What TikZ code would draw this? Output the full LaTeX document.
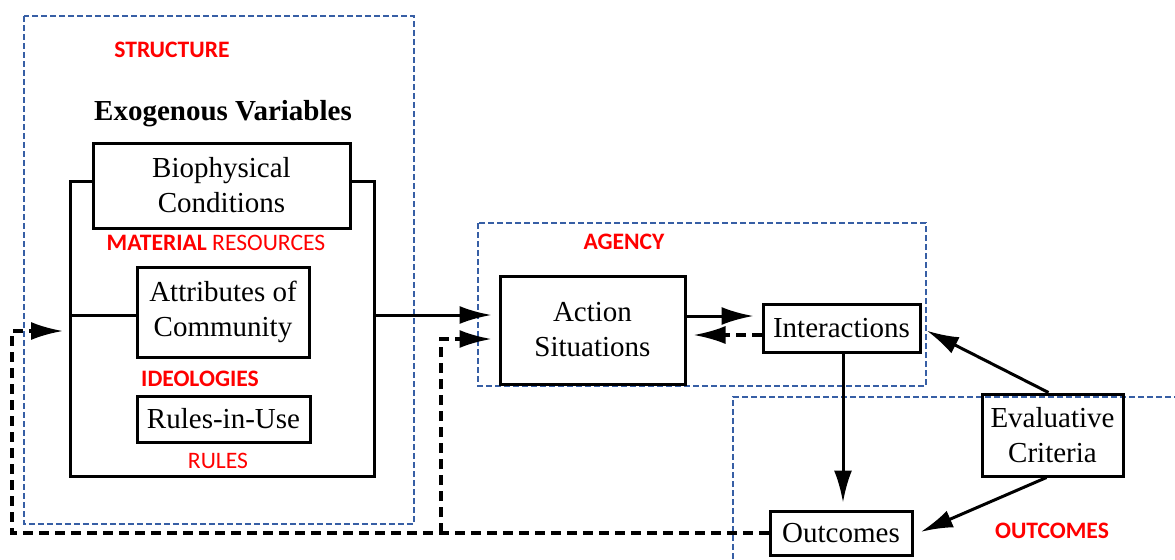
\documentclass[tikz,border=0pt]{standalone}
\usepackage{fontspec}
\setmainfont{Liberation Serif}
\newfontfamily\labelfont{Carlito}
\usetikzlibrary{arrows.meta}
\definecolor{zoneblue}{RGB}{55,95,165}
\definecolor{tagred}{RGB}{255,0,0}
\begin{document}
\begin{tikzpicture}[x=0.5pt,y=-0.5pt,
  box/.style={draw,line width=1.5pt,rectangle,inner sep=0pt,align=center,
    font=\fontsize{14.5}{17.5}\selectfont},
  zone/.style={draw=zoneblue,line width=0.6pt,dash pattern=on 2.8pt off 1.7pt},
  tag/.style={text=tagred,font=\labelfont\fontsize{11.8}{13}\selectfont\bfseries},
  tip/.style={-{Latex[length=16pt,width=9pt]}},
  link/.style={line width=1.5pt,tip},
  back/.style={line width=1.6pt,dash pattern=on 5pt off 3pt,tip},
  frame/.style={line width=1.5pt}]
\useasboundingbox (0,0) rectangle (1175,559);

% dashed zones
\draw[zone] (24,16) rectangle (414,524);
\draw[zone] (478,223) rectangle (926,386);
\draw[zone] (733,559) -- (733,397) -- (1175,397);

% zone labels
\node[tag] (tstruct) at (172,50) {STRUCTURE};
\node[tag] (tmat) at (216,243) {MATERIAL \mdseries RESOURCES};
\node[tag] (tideo) at (200,379) {IDEOLOGIES};
\node[tag,font=\labelfont\fontsize{11.8}{13}\selectfont] (trules) at (218,461) {RULES};
\node[tag] (tagency) at (624,242) {AGENCY};
\node[tag] (toutc) at (1052,531) {OUTCOMES};

% exogenous variables
\node[font=\fontsize{14.5}{16.5}\selectfont\bfseries] (exo) at (223,114) {Exogenous Variables};
\node[box,minimum width=128.5pt,minimum height=42.5pt] (bio) at (221.5,185.5) {Biophysical\\Conditions};
\node[box,minimum width=86pt,minimum height=45pt] (attr) at (223,312) {Attributes of\\Community};
\node[box,minimum width=86.5pt,minimum height=23pt] (rules) at (223.5,419) {Rules-in-Use};

% bracket around the exogenous variables
\draw[frame] (bio.west |- 0,181) -- (70,181) -- (70,476) -- (374,476) -- (374,181) -- (bio.east |- 0,181);
\coordinate (brL) at (70,315);
\coordinate (brR) at (374,315);
\draw[frame] (brL) -- (attr.west |- brL);

% action arena and results
\node[box,minimum width=92.5pt,minimum height=54pt] (action) at (592.5,330) {Action\\Situations};
\node[box,minimum width=78.5pt,minimum height=24pt] (inter) at (841.5,328) {Interactions};
\node[box,minimum width=71pt,minimum height=22pt] (outc) at (841,533) {Outcomes};
\node[box,minimum width=70.5pt,minimum height=41pt] (eval) at (1052.5,435) {Evaluative\\Criteria};

% forward links
\draw[link,shorten >=3.5pt] (brR) -- (action.west |- brR);
\draw[link,shorten >=4pt] (action.east |- 0,316) -- (inter.west |- 0,316);
\draw[back,shorten >=3.5pt] (inter.west |- 0,335) -- (action.east |- 0,335);
\draw[link,shorten >=3.5pt] (inter.south -| 843,0) -- (outc.north -| 843,0);
\draw[link,shorten >=3pt] (eval.north west) ++(68,0) -- (inter.east |- 0,328);
\draw[link,shorten >=4pt] (eval.south west) ++(66,0) -- (outc.east |- 0,535);

% feedback from outcomes
\coordinate (fbA) at (12,533);
\coordinate (fbB) at (441,533);
\draw[back,shorten >=3.5pt] (outc.west) -- (fbA) -- (12,331) -- (brL |- 0,331);
\draw[back,shorten >=3.5pt] (fbB) -- (441,339) -- (action.west |- 0,339);
\end{tikzpicture}
\end{document}
